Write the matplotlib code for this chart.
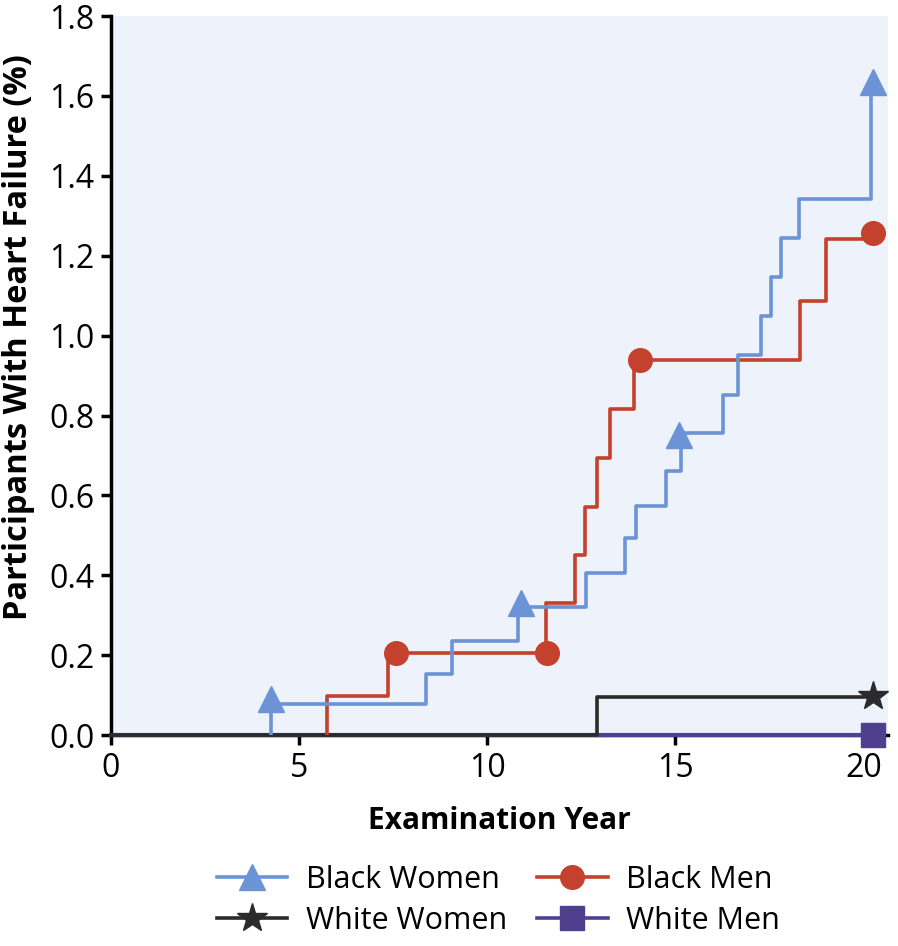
import numpy as np
import matplotlib.pyplot as plt

# step times (years) and cumulative levels (%) after each step
bw_times = [4.25, 8.38, 9.07, 10.82, 12.63, 13.67, 13.96, 14.76, 15.16, 16.28,
            16.68, 17.29, 17.55, 17.82, 18.30, 20.21]
bw_levels = [0.078, 0.153, 0.235, 0.320, 0.405, 0.493, 0.573, 0.661, 0.756, 0.851,
             0.951, 1.049, 1.147, 1.244, 1.342, 1.630]
bm_times = [5.74, 7.37, 11.57, 12.34, 12.61, 12.92, 13.27, 13.91, 18.32, 19.02]
bm_levels = [0.098, 0.205, 0.330, 0.450, 0.571, 0.694, 0.816, 0.939, 1.087, 1.242]
ww_times = [12.93]
ww_levels = [0.095]
end_year = 20.27

# marker positions
bw_mx = [4.25, 10.9, 15.1, 20.27]
bw_my = [0.09, 0.33, 0.75, 1.635]
bm_mx = [7.58, 11.6, 14.07, 20.27]
bm_my = [0.205, 0.205, 0.939, 1.257]
ww_mx, ww_my = [20.27], [0.098]
wm_mx, wm_my = [20.27], [0.0]

labels = ["Black Women", "Black Men", "White Women", "White Men"]
colors = ["#6b93d6", "#c3412d", "#2b2b2b", "#4f3f8f"]
markers = ["^", "o", "*", "s"]
msizes = [19, 17, 22, 17]

plt.rcParams['font.family'] = ['Open Sans', 'DejaVu Sans']


def steps(times, levels, start, end):
    x = [times[0]] + list(times) + [end]
    y = [0] + list(levels) + [levels[-1]]
    if start is not None:
        x = [start] + x
        y = [0] + y
    return np.array(x), np.array(y)


fig = plt.figure(figsize=(8.98, 9.46), dpi=100)
ax = fig.add_axes([0.1236, 0.223, 0.8654, 0.760])
ax.set_facecolor("#eef2fa")

# White Men: flat at zero
ax.plot([0, end_year], [0, 0], color=colors[3], lw=3, clip_on=False, zorder=3)
x, y = steps(ww_times, ww_levels, 0, end_year)
ax.step(x, y, where='post', color=colors[2], lw=2.6, clip_on=False, zorder=4)
x, y = steps(bm_times, bm_levels, None, end_year)
ax.step(x, y, where='post', color=colors[1], lw=2.6, zorder=5)
x, y = steps(bw_times, bw_levels, None, bw_times[-1])
ax.step(x, y, where='post', color=colors[0], lw=2.6, zorder=6)

ax.plot(bw_mx, bw_my, ls='none', marker=markers[0], ms=msizes[0], color=colors[0], zorder=7, clip_on=False)
ax.plot(bm_mx, bm_my, ls='none', marker=markers[1], ms=msizes[1], color=colors[1], zorder=7, clip_on=False)
ax.plot(ww_mx, ww_my, ls='none', marker=markers[2], ms=msizes[2], color=colors[2], zorder=7, clip_on=False)
ax.plot(wm_mx, wm_my, ls='none', marker=markers[3], ms=msizes[3], color=colors[3], zorder=7, clip_on=False)

ax.set_xlim(0, 20.66)
ax.set_ylim(0, 1.8)
ax.set_xticks([0, 5, 10, 15, 20])
ax.set_yticks(np.arange(0, 1.81, 0.2))
ax.set_yticklabels([f"{v:.1f}" for v in np.arange(0, 1.81, 0.2)])
ax.tick_params(labelsize=23, width=2.5, length=7, color='black', pad=5)
for s in ['top', 'right']:
    ax.spines[s].set_visible(False)
for s in ['left', 'bottom']:
    ax.spines[s].set_linewidth(2.5)
    ax.spines[s].set_zorder(2)

ax.set_xlabel("Examination Year", fontsize=21.5, fontweight='bold', labelpad=15)
ax.set_ylabel("Participants With Heart Failure (%)", fontsize=23.5, fontweight='bold')
ax.yaxis.set_label_coords(-0.098, 0.553)

# legend filled column-wise -> order so rows read BW, BM / WW, WM
order = [0, 2, 1, 3]
handles = [
    plt.Line2D([], [], color=colors[i], lw=2.6, marker=markers[i], ms=msizes[i])
    for i in order
]
fig.legend(handles, [labels[i] for i in order], loc='upper center',
           bbox_to_anchor=(0.555, 0.115), ncol=2, frameon=False, fontsize=22,
           handlelength=2.3, columnspacing=1.0, labelspacing=0.36, handletextpad=0.6)

fig.savefig("out.png", dpi=100)
